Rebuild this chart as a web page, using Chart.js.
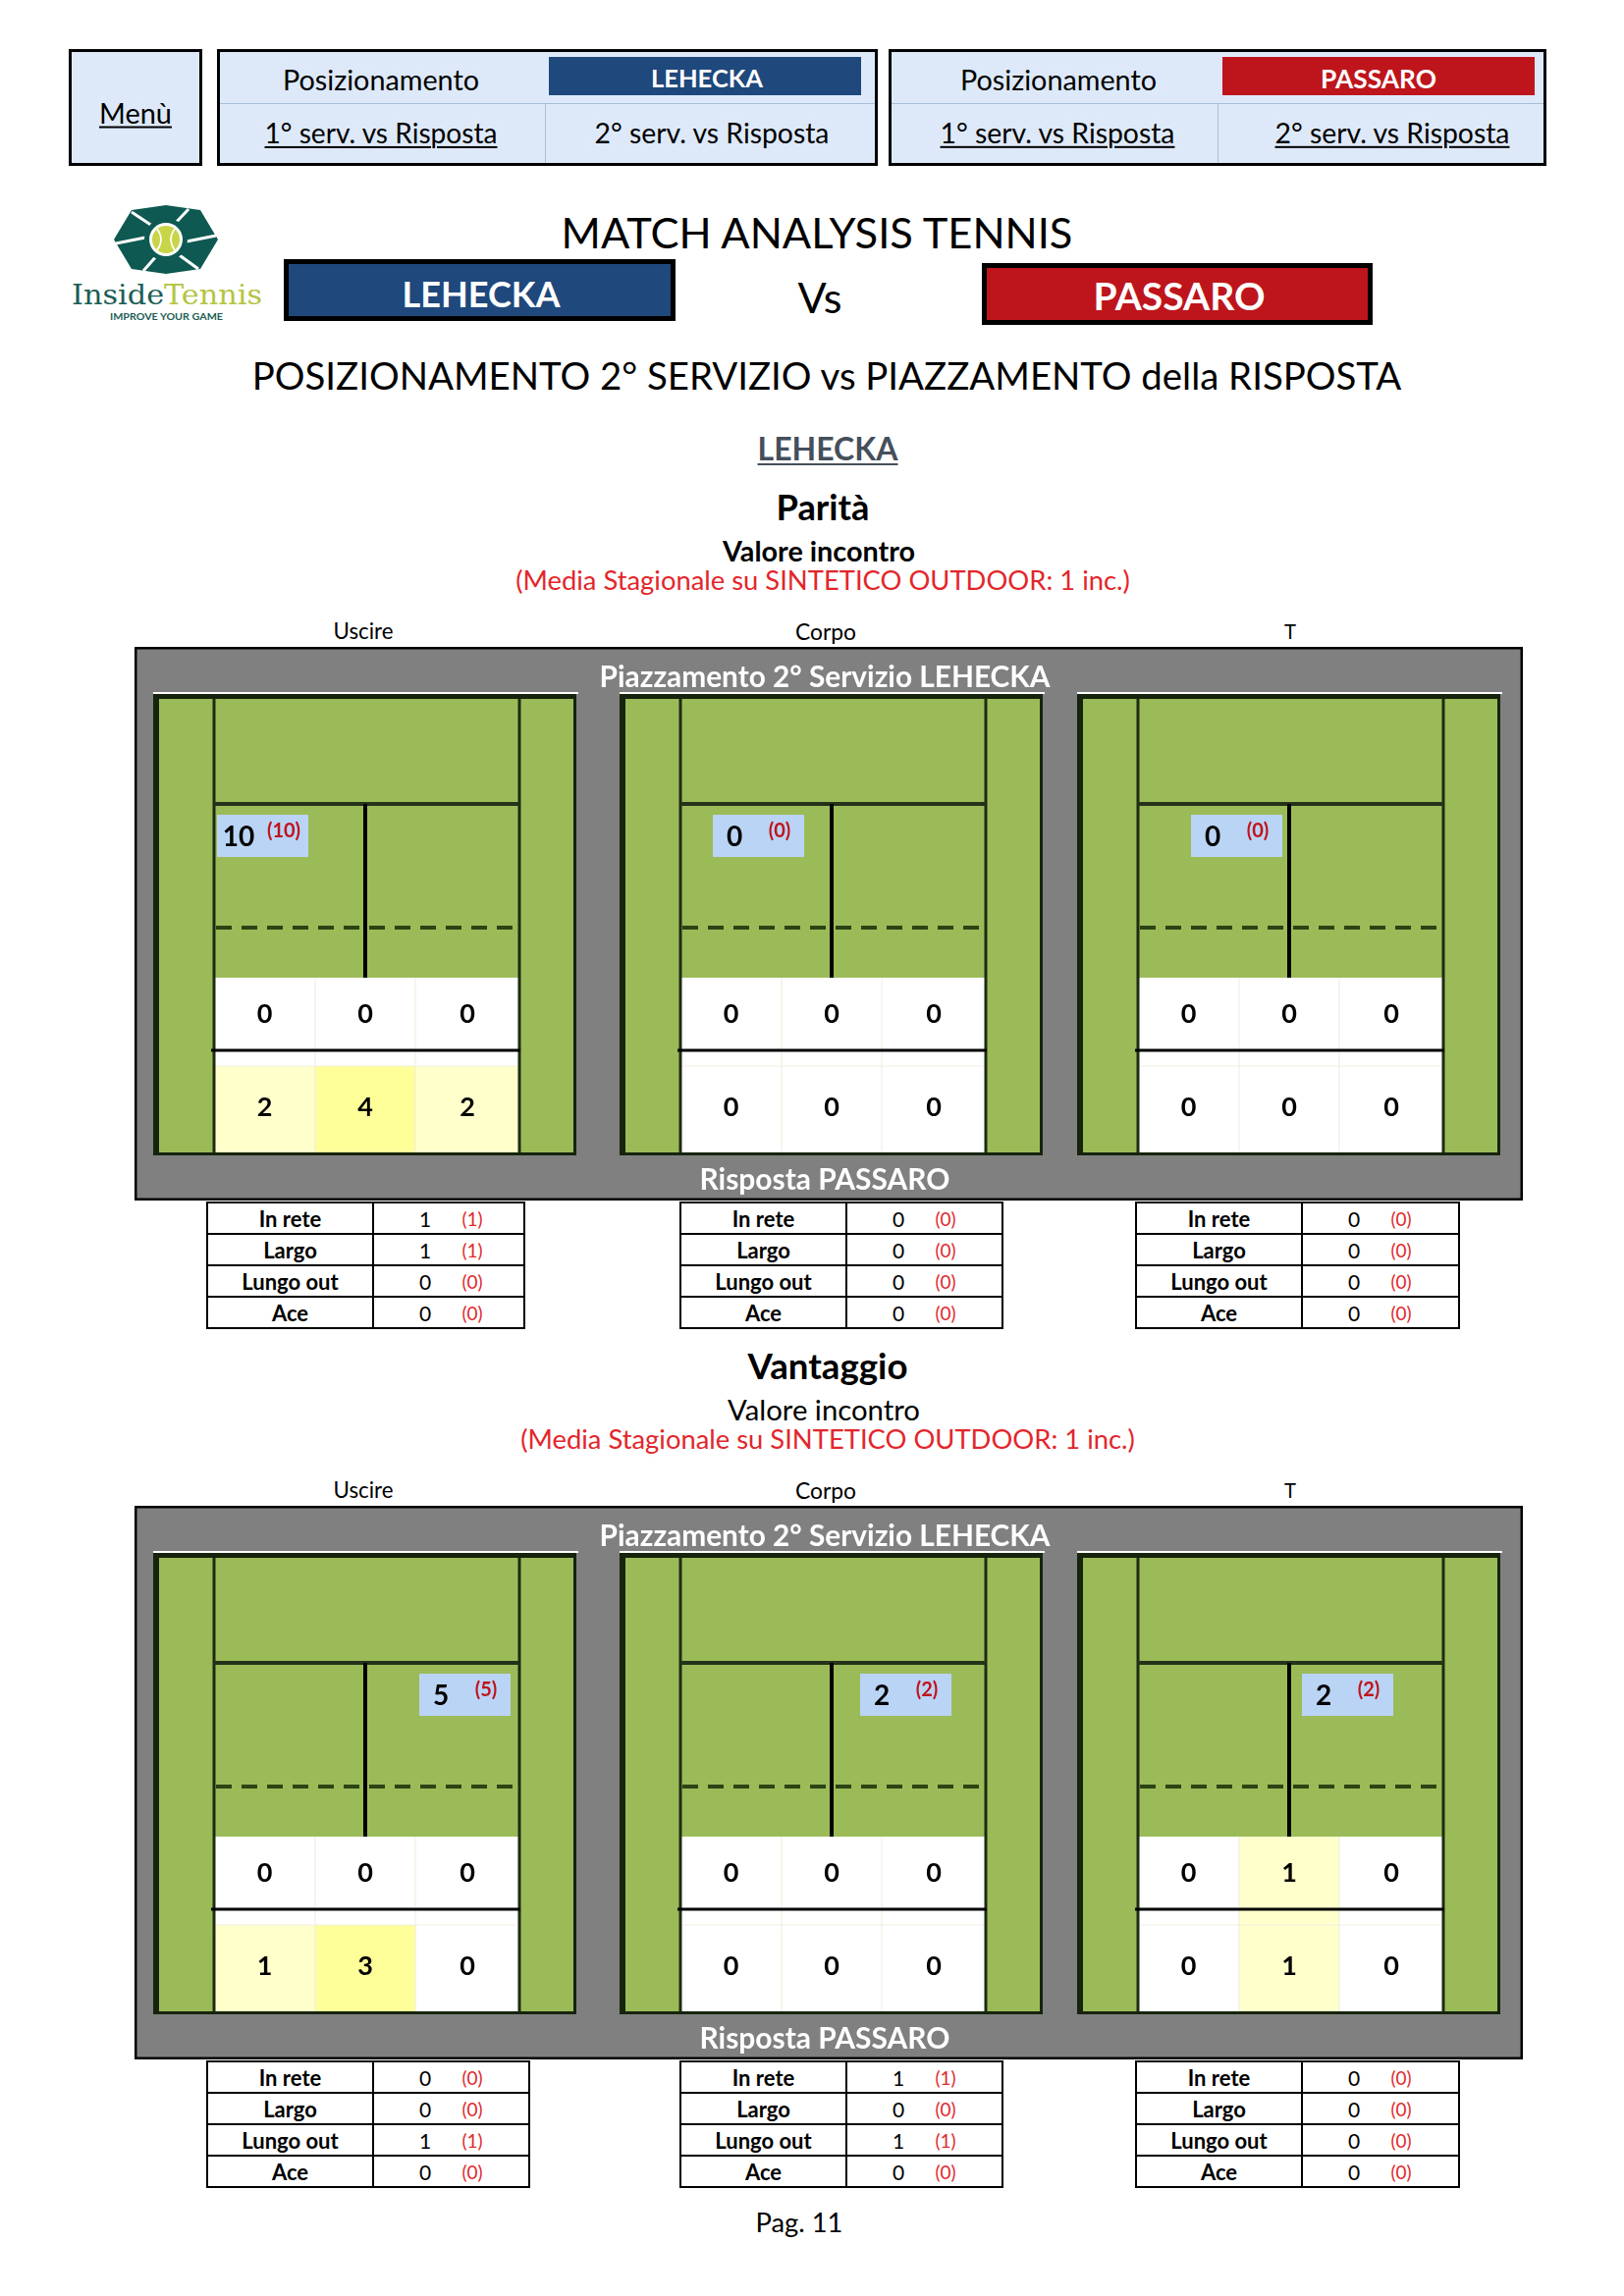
<!DOCTYPE html>
<html>
<head>
<meta charset="utf-8">
<script src="https://cdn.jsdelivr.net/npm/chart.js@4.4.1/dist/chart.umd.min.js"></script>
<style>
    body { margin: 0; background: #fff; font-family: Lato, 'Open Sans', sans-serif; }
    #page { position: relative; width: 1654px; height: 2339px; overflow: hidden; background: #fff; }
    .t { position: absolute; white-space: nowrap; transform: translate(-50%, -50%); line-height: 1; }
    .box { position: absolute; box-sizing: border-box; }
    .nav { background: #dde9f8; border: 3px solid #000; }
    .u { text-decoration: underline; text-decoration-thickness: 2px; text-underline-offset: 3px; }
    canvas.panel { position: absolute; }
    table.err { position: absolute; border-collapse: collapse; table-layout: fixed; }
    table.err td { border: 2.5px solid #000; height: 30px; padding: 0; position: relative; font-size: 21px; }
    table.err td.lab { text-align: center; font-weight: bold; font-size: 22px; }
    table.err span { position: absolute; top: 50%; transform: translate(-50%, -50%); line-height: 1; }
    table.err .p { color: #e02a2e; font-size: 19px; }
</style>
</head>
<body>
<div id="page">
    <!-- navigation -->
    <div class="box nav" style="left:70px;top:50px;width:136px;height:119px"></div>
    <div class="t u" data-w="74" style="left:138px;top:115px">Menù</div>

    <div class="box nav" style="left:221px;top:50px;width:673px;height:119px"></div>
    <div class="box" style="left:224px;top:105px;width:667px;height:1px;background:#a9bfd8"></div>
    <div class="box" style="left:555px;top:106px;width:1px;height:60px;background:#a9bfd8"></div>
    <div class="box" style="left:559px;top:58px;width:318px;height:39px;background:#1f487c"></div>
    <div class="t" data-w="200" style="left:388px;top:81px">Posizionamento</div>
    <div class="t" data-w="114" style="left:720px;top:80px;color:#fff;font-weight:bold">LEHECKA</div>
    <div class="t u" data-w="237" style="left:388px;top:135px">1° serv. vs Risposta</div>
    <div class="t" data-w="239" style="left:725px;top:135px">2° serv. vs Risposta</div>

    <div class="box nav" style="left:905px;top:50px;width:670px;height:119px"></div>
    <div class="box" style="left:908px;top:105px;width:664px;height:1px;background:#a9bfd8"></div>
    <div class="box" style="left:1240px;top:106px;width:1px;height:60px;background:#a9bfd8"></div>
    <div class="box" style="left:1245px;top:58px;width:318px;height:39px;background:#be141b"></div>
    <div class="t" data-w="200" style="left:1078px;top:81px">Posizionamento</div>
    <div class="t" data-w="118" style="left:1404px;top:80px;color:#fff;font-weight:bold">PASSARO</div>
    <div class="t u" data-w="239" style="left:1077px;top:135px">1° serv. vs Risposta</div>
    <div class="t u" data-w="239" style="left:1418px;top:135px">2° serv. vs Risposta</div>

    <!-- logo -->
    <svg class="box" style="left:72px;top:206px" width="200" height="125" viewBox="0 0 200 125">
        <polygon points="44,38 62,8 97,3 132,8 150,38 132,68 97,73 62,68" fill="#0e5a52"/>
        <g stroke="#fff" stroke-width="3">
            <line x1="62" y1="10" x2="86" y2="26"/>
            <line x1="120" y1="7" x2="106" y2="22"/>
            <line x1="148" y1="34" x2="118" y2="40"/>
            <line x1="130" y1="68" x2="108" y2="52"/>
            <line x1="74" y1="70" x2="88" y2="54"/>
            <line x1="46" y1="42" x2="76" y2="36"/>
        </g>
        <circle cx="97" cy="38" r="22" fill="#0e5a52"/>
        <circle cx="97" cy="38" r="17" fill="#fff"/>
        <circle cx="97" cy="38" r="14" fill="#c8d547"/>
        <path d="M88,27 Q96,38 88,49 M106,27 Q98,38 106,49" stroke="#fff" stroke-width="1.6" fill="none"/>
        <text x="1" y="104" font-family="'DejaVu Serif Condensed','DejaVu Serif',serif" font-size="28" textLength="194" lengthAdjust="spacingAndGlyphs"><tspan fill="#1b5e56">Inside</tspan><tspan fill="#b3c543">Tennis</tspan></text>
        <text x="40" y="120" font-family="Lato,sans-serif" font-size="10" font-weight="bold" fill="#1b5e56" textLength="115" lengthAdjust="spacingAndGlyphs">IMPROVE YOUR GAME</text>
    </svg>

    <!-- titles -->
    <div class="t" data-w="521" style="left:832px;top:237px">MATCH ANALYSIS TENNIS</div>
    <div class="box" style="left:289px;top:264px;width:399px;height:63px;background:#1f487c;border:5px solid #000"></div>
    <div class="t" data-w="161" style="left:490px;top:299px;color:#fff;font-weight:bold">LEHECKA</div>
    <div class="t" data-w="45" style="left:835px;top:303px">Vs</div>
    <div class="box" style="left:1000px;top:268px;width:398px;height:63px;background:#be141b;border:5px solid #000"></div>
    <div class="t" data-w="175" style="left:1201px;top:301px;color:#fff;font-weight:bold">PASSARO</div>
    <div class="t" data-w="1171" style="left:842px;top:382px">POSIZIONAMENTO 2° SERVIZIO vs PIAZZAMENTO della RISPOSTA</div>
    <div class="t u" data-w="143" style="left:843px;top:457px;color:#454f5c;font-weight:bold">LEHECKA</div>

    <div id="sections"></div>

    <div class="t" data-w="89" style="left:814px;top:2264px">Pag. 11</div>
</div>

<script>
// --- data -----------------------------------------------------------------
const zones = ['Uscire', 'Corpo', 'T'];
const errorRows = ['In rete', 'Largo', 'Lungo out', 'Ace'];

// Parità: 2nd serve placement (match value and season average)
const paritaServe = [10, 0, 0];
const paritaServeAvg = [10, 0, 0];
// return position, near row and deep row, per zone (left, centre, right)
const paritaNear = [[0, 0, 0], [0, 0, 0], [0, 0, 0]];
const paritaDeep = [[2, 4, 2], [0, 0, 0], [0, 0, 0]];
const paritaErrors = [[1, 1, 0, 0], [0, 0, 0, 0], [0, 0, 0, 0]];
const paritaErrorsAvg = [[1, 1, 0, 0], [0, 0, 0, 0], [0, 0, 0, 0]];

// Vantaggio
const vantaggioServe = [5, 2, 2];
const vantaggioServeAvg = [5, 2, 2];
const vantaggioNear = [[0, 0, 0], [0, 0, 0], [0, 1, 0]];
const vantaggioDeep = [[1, 3, 0], [0, 0, 0], [0, 1, 0]];
const vantaggioErrors = [[0, 0, 1, 0], [1, 0, 1, 0], [0, 0, 0, 0]];
const vantaggioErrorsAvg = [[0, 0, 1, 0], [1, 0, 1, 0], [0, 0, 0, 0]];

// --- layout ---------------------------------------------------------------
const PANEL_W = 1414;
const PANEL_H = 564;
const COURT_X = [19, 494, 960];
const COURT_Y = 48;
const COURT_W = 431;
const COURT_H = 470;
const COL_EDGES = [62, 165, 267, 373];
const BOX_W = 93;
const BOX_H = 43;

const heat = (v) => (v <= 0 ? '#ffffff' : v <= 2 ? '#ffffcc' : '#ffff99');

// fit the html texts to the measured widths
document.querySelectorAll('[data-w]').forEach((el) => {
    el.style.fontSize = '100px';
    const w = el.getBoundingClientRect().width;
    el.style.fontSize = (100 * +el.dataset.w) / w + 'px';
});

const fitFont = (ctx, text, weight, width, family) => {
    ctx.font = weight + ' 100px ' + family;
    const size = (100 * width) / ctx.measureText(text).width;
    ctx.font = weight + ' ' + size + 'px ' + family;
};

const courtPlugin = {
    id: 'court',
    beforeDatasetsDraw(chart) {
        const { ctx } = chart;
        const sx = chart.scales.x;
        const sy = chart.scales.y;
        const X = (v) => sx.getPixelForValue(v);
        const Y = (v) => sy.getPixelForValue(v);
        const rect = (x0, y0, x1, y1, fill) => {
            ctx.fillStyle = fill;
            ctx.fillRect(X(x0), Y(y0), X(x1) - X(x0), Y(y1) - Y(y0));
        };
        const line = (x0, y0, x1, y1, color, w, dash) => {
            ctx.beginPath();
            ctx.setLineDash(dash || []);
            ctx.strokeStyle = color;
            ctx.lineWidth = w;
            ctx.moveTo(X(x0), Y(y0));
            ctx.lineTo(X(x1), Y(y1));
            ctx.stroke();
            ctx.setLineDash([]);
        };
        const family = 'Lato, sans-serif';

        ctx.save();
        rect(0, 0, PANEL_W, PANEL_H, '#808080');
        ctx.strokeStyle = '#000';
        ctx.lineWidth = 3;
        ctx.strokeRect(X(0) + 1, Y(0) + 1, X(PANEL_W) - X(0) - 2, Y(PANEL_H) - Y(0) - 2);

        ctx.fillStyle = '#fff';
        ctx.textAlign = 'center';
        ctx.textBaseline = 'middle';
        fitFont(ctx, 'Piazzamento 2° Servizio LEHECKA', 'bold', 459, family);
        ctx.fillText('Piazzamento 2° Servizio LEHECKA', X(703), Y(31));
        fitFont(ctx, 'Risposta PASSARO', 'bold', 255, family);
        ctx.fillText('Risposta PASSARO', X(703), Y(543));

        // courts and return cells
        const near = chart.data.datasets[0].data;
        const deep = chart.data.datasets[1].data;
        COURT_X.forEach((L, k) => {
            const T = COURT_Y;
            line(L, T - 1, L + COURT_W + 2, T - 1, '#ffffff', 2);
            rect(L, T, L + COURT_W, T + COURT_H, '#9bbb59');
            for (let c = 0; c < 3; c++) {
                rect(L + COL_EDGES[c], T + 289, L + COL_EDGES[c + 1], T + 379, heat(near[k * 3 + c].v));
                rect(L + COL_EDGES[c], T + 379, L + COL_EDGES[c + 1], T + COURT_H, heat(deep[k * 3 + c].v));
                if (c > 0) line(L + COL_EDGES[c], T + 289, L + COL_EDGES[c], T + COURT_H, '#ececdc', 1);
            }
            line(L + 62, T + 379, L + 373, T + 379, '#f0f0e0', 1);
            line(L + 62, T, L + 62, T + COURT_H, '#1e2c12', 3);
            line(L + 373, T, L + 373, T + COURT_H, '#1e2c12', 3);
            line(L + 62, T + 112, L + 373, T + 112, '#24331a', 4);
            line(L + 216, T + 112, L + 216, T + 289, '#000', 4);
            line(L + 64, T + 238, L + 373, T + 238, '#2c4414', 4, [16, 10]);
            line(L + 59, T + 363, L + 374, T + 363, '#000', 3);
            ctx.strokeStyle = '#16240e';
            ctx.lineWidth = 3;
            ctx.strokeRect(X(L) + 1.5, Y(T) + 1.5, X(L + COURT_W) - X(L) - 3, Y(T + COURT_H) - Y(T) - 3);
            rect(L, T, L + COURT_W, T + 5, '#16240e');
            rect(L, T, L + 6, T + COURT_H, '#16240e');
        });

        // cell numbers at the points placed by the scales
        ctx.fillStyle = '#000';
        ctx.font = 'bold 27px ' + family;
        [0, 1].forEach((i) => {
            chart.getDatasetMeta(i).data.forEach((pt, j) => {
                ctx.fillText(String(chart.data.datasets[i].data[j].v), pt.x, pt.y);
            });
        });

        // serve placement boxes
        const serve = chart.data.datasets[2].data;
        chart.getDatasetMeta(2).data.forEach((pt, j) => {
            const x0 = pt.x - BOX_W / 2;
            const y0 = pt.y - BOX_H / 2;
            ctx.fillStyle = '#b9d4f4';
            ctx.fillRect(x0, y0, BOX_W, BOX_H);
            ctx.fillStyle = '#000';
            ctx.font = 'bold 28px ' + family;
            ctx.fillText(String(serve[j].v), x0 + 22, y0 + 23);
            ctx.fillStyle = '#c0141c';
            ctx.font = 'bold 20px ' + family;
            ctx.fillText('(' + serve[j].avg + ')', x0 + 68, y0 + 17);
        });
        ctx.restore();
    },
};

function makePanel(top, serve, serveAvg, nearV, deepV, boxX) {
    const cv = document.createElement('canvas');
    cv.className = 'panel';
    cv.width = PANEL_W;
    cv.height = PANEL_H;
    cv.style.left = '137px';
    cv.style.top = top + 'px';
    document.getElementById('page').appendChild(cv);

    const mid = (c) => (COL_EDGES[c] + COL_EDGES[c + 1]) / 2;
    const cells = (vals, y) =>
        COURT_X.flatMap((L, k) => [0, 1, 2].map((c) => ({ x: L + mid(c), y: COURT_Y + y, v: vals[k][c] })));

    new Chart(cv, {
        type: 'scatter',
        data: {
            datasets: [
                { label: 'near', data: cells(nearV, 326) },
                { label: 'deep', data: cells(deepV, 421) },
                {
                    label: 'serve',
                    data: zones.map((z, k) => ({
                        x: COURT_X[k] + boxX[k] + BOX_W / 2,
                        y: COURT_Y + 123 + BOX_H / 2,
                        v: serve[k],
                        avg: serveAvg[k],
                    })),
                },
            ],
        },
        options: {
            responsive: false,
            animation: false,
            events: [],
            layout: { padding: 0 },
            elements: { point: { radius: 0, hoverRadius: 0 } },
            scales: {
                x: { type: 'linear', min: 0, max: PANEL_W, display: false },
                y: { type: 'linear', min: 0, max: PANEL_H, reverse: true, display: false },
            },
            plugins: { legend: { display: false }, tooltip: { enabled: false } },
        },
        plugins: [courtPlugin],
    });
}

function makeTable(left, top, width, errs, avgs) {
    const t = document.createElement('table');
    t.className = 'err';
    t.style.left = left + 'px';
    t.style.top = top + 'px';
    t.style.width = width + 'px';
    errorRows.forEach((name, i) => {
        const tr = t.insertRow();
        const a = tr.insertCell();
        a.className = 'lab';
        a.style.width = '167px';
        a.textContent = name;
        const b = tr.insertCell();
        b.innerHTML =
            '<span style="left:52px">' + errs[i] + '</span>' +
            '<span class="p" style="left:100px">(' + avgs[i] + ')</span>';
    });
    document.getElementById('page').appendChild(t);
}

function addText(x, y, w, text, style) {
    const d = document.createElement('div');
    d.className = 't';
    d.style.cssText = 'left:' + x + 'px;top:' + y + 'px;' + (style || '');
    d.textContent = text;
    document.getElementById('page').appendChild(d);
    d.style.fontSize = '100px';
    const mw = d.getBoundingClientRect().width;
    d.style.fontSize = (100 * w) / mw + 'px';
}

function makeSection(dy, title, titleW, boldValore, serve, serveAvg, nearV, deepV, boxX, errs, avgs) {
    addText(838 + (dy ? 5 : 0), 516 + dy, titleW, title, 'font-weight:bold');
    addText(834 + (dy ? 5 : 0), 561 + dy, 196, 'Valore incontro', boldValore ? 'font-weight:bold' : '');
    addText(838 + (dy ? 5 : 0), 591 + dy, 626, '(Media Stagionale su SINTETICO OUTDOOR: 1 inc.)', 'color:#e3262b');
    const labelX = [370, 841, 1314];
    zones.forEach((z, k) => addText(labelX[k], 643 + dy, [61, 62, 12][k], z));
    makePanel(659 + dy, serve, serveAvg, nearV, deepV, boxX);
    const tableX = [210, 692, 1156];
    const tableW = [dy ? 330 : 325, 330, 331];
    zones.forEach((z, k) => makeTable(tableX[k], 1224 + dy, tableW[k], errs[k], avgs[k]));
}

makeSection(0, 'Parità', 95, true, paritaServe, paritaServeAvg, paritaNear, paritaDeep,
    [65, 95, 116], paritaErrors, paritaErrorsAvg);
makeSection(875, 'Vantaggio', 163, false, vantaggioServe, vantaggioServeAvg, vantaggioNear, vantaggioDeep,
    [271, 245, 229], vantaggioErrors, vantaggioErrorsAvg);
</script>
</body>
</html>
